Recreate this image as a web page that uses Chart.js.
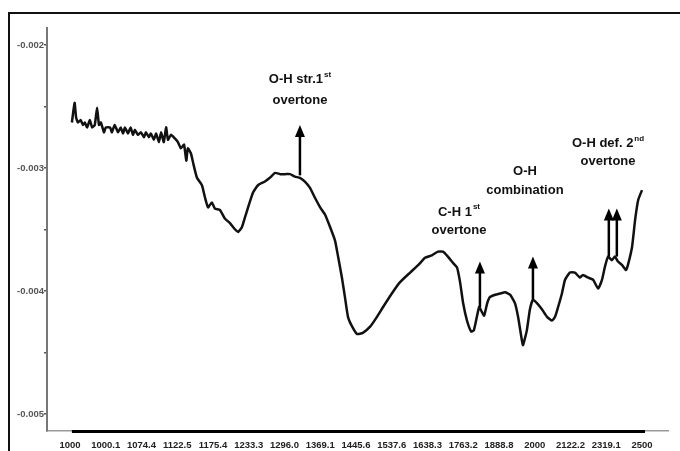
<!DOCTYPE html>
<html><head><meta charset="utf-8">
<script src="https://cdn.jsdelivr.net/npm/chart.js@4.4.1/dist/chart.umd.min.js"></script>
<style>html,body{margin:0;padding:0;background:#fff;}#wrap{width:680px;height:451px;position:relative;}</style>
</head><body><div id="wrap"><canvas id="c" width="680" height="451"></canvas></div>
<script>
// Wavelength (nm) of each traced point of the spectrum
const wavelengths = [
 1005,1012,1016,1021,1028,1034,1039,1045,1052,1058,
 1065,1071,1076,1081,1089,1094,1105,1110,1117,1126,
 1133,1139,1144,1152,1159,1165,1170,1178,1186,1194,
 1199,1207,1212,1220,1226,1233,1239,1246,1252,1257,
 1265,1275,1283,1291,1299,1305,1309,1317,1323,1333,
 1346,1354,1362,1372,1380,1393,1406,1420,1433,1441,
 1451,1459,1467,1480,1493,1511,1524,1538,1551,1564,
 1577,1590,1603,1616,1629,1642,1656,1669,1682,1695,
 1703,1713,1721,1729,1740,1753,1768,1787,1805,1821,
 1844,1865,1892,1913,1931,1949,1965,1978,1991,2004,
 2015,2023,2031,2041,2052,2059,2067,2073,2080,2086,
 2094,2101,2115,2128,2141,2154,2167,2175,2185,2188,
 2198,2206,2214,2225,2238,2251,2264,2272,2280,2290,
 2298,2311,2324,2337,2345,2358,2372,2385,2395,2403,
 2411,2421,2429,2437,2448,2458,2463,2474,2482,2490,
 2500
];
// Signal values
const absorbance = [
 -0.00263,-0.00247,-0.00259,-0.00263,-0.00261,-0.00265,-0.00263,-0.00267,-0.00261,-0.00267,
 -0.00265,-0.00251,-0.00265,-0.00263,-0.00271,-0.00267,-0.00267,-0.00271,-0.00265,-0.00271,
 -0.00267,-0.00272,-0.00267,-0.00272,-0.00267,-0.00273,-0.00269,-0.00273,-0.00271,-0.00275,
 -0.00271,-0.00275,-0.00272,-0.00277,-0.00272,-0.00279,-0.00271,-0.00279,-0.00267,-0.00277,
 -0.00273,-0.00276,-0.00279,-0.00284,-0.00281,-0.00294,-0.00284,-0.00288,-0.00296,-0.00308,
 -0.00314,-0.00324,-0.00332,-0.00328,-0.00333,-0.00334,-0.00341,-0.00345,-0.00350,-0.00352,
 -0.00348,-0.00340,-0.00332,-0.00320,-0.00314,-0.00311,-0.00308,-0.00304,-0.00305,-0.00305,
 -0.00305,-0.00307,-0.00308,-0.00311,-0.00316,-0.00324,-0.00332,-0.00338,-0.00348,-0.00359,
 -0.00372,-0.00389,-0.00405,-0.00421,-0.00429,-0.00435,-0.00434,-0.00429,-0.00421,-0.00413,
 -0.00402,-0.00393,-0.00385,-0.00379,-0.00373,-0.00371,-0.00368,-0.00368,-0.00372,-0.00377,
 -0.00381,-0.00393,-0.00410,-0.00424,-0.00433,-0.00432,-0.00421,-0.00413,-0.00417,-0.00420,
 -0.00410,-0.00405,-0.00403,-0.00402,-0.00401,-0.00403,-0.00410,-0.00421,-0.00440,-0.00444,
 -0.00432,-0.00415,-0.00407,-0.00410,-0.00415,-0.00421,-0.00424,-0.00421,-0.00413,-0.00402,
 -0.00391,-0.00385,-0.00385,-0.00389,-0.00387,-0.00389,-0.00391,-0.00398,-0.00391,-0.00380,
 -0.00372,-0.00375,-0.00372,-0.00376,-0.00379,-0.00383,-0.00379,-0.00364,-0.00342,-0.00326,
 -0.00318
];
// Axis tick labels as printed
const xTickLabels = ['1000','1000.1','1074.4','1122.5','1175.4','1233.3','1296.0','1369.1','1445.6','1537.6','1638.3','1763.2','1888.8','2000','2122.2','2319.1','2500'];
const yTickValues = [-0.005,-0.0045,-0.004,-0.0035,-0.003,-0.0025,-0.002];
const yTickLabels = ['-0.005','','-0.004','','-0.003','','-0.002'];
// Band annotations (data units)
const bandLabels = [
 {text:'O-H str.1', sup:'st', x:1603, y:-0.00228},
 {text:'overtone', sup:'', x:1603, y:-0.00245},
 {text:'C-H 1', sup:'st', x:2020, y:-0.00336},
 {text:'overtone', sup:'', x:2020, y:-0.00351},
 {text:'O-H', sup:'', x:2193, y:-0.00303},
 {text:'combination', sup:'', x:2193, y:-0.00318},
 {text:'O-H def. 2', sup:'nd', x:2411, y:-0.00280},
 {text:'overtone', sup:'', x:2411, y:-0.00295}
];
const bandArrows = [
 {x:1603, from:-0.00306, to:-0.00265},
 {x:2075, from:-0.00413, to:-0.00376},
 {x:2214, from:-0.00407, to:-0.00372},
 {x:2413, from:-0.00372, to:-0.00333},
 {x:2434, from:-0.00372, to:-0.00333}
];

const points = wavelengths.map((w,i)=>({x:w, y:absorbance[i]}));
const FONT = '"Liberation Sans", Arial, sans-serif';

const extras = {
  id:'extras',
  afterDraw(chart){
    const ctx = chart.ctx, xs = chart.scales.x, ys = chart.scales.y, ca = chart.chartArea;
    ctx.save();
    // outer frame
    ctx.strokeStyle = '#111'; ctx.lineWidth = 2;
    ctx.strokeRect(9, 13, 800, 800);
    // thick baseline under the data range
    ctx.strokeStyle = '#000'; ctx.lineWidth = 3;
    ctx.beginPath();
    ctx.moveTo(xs.getPixelForValue(wavelengths[0]), ca.bottom + 0.5);
    ctx.lineTo(xs.getPixelForValue(wavelengths[wavelengths.length-1]) + 3, ca.bottom + 0.5);
    ctx.stroke();
    // arrows
    ctx.fillStyle = '#000'; ctx.strokeStyle = '#000';
    bandArrows.forEach(a=>{
      const px = xs.getPixelForValue(a.x), y0 = ys.getPixelForValue(a.from), y1 = ys.getPixelForValue(a.to);
      const hh = 12, hw = 5;
      ctx.lineWidth = 2.5;
      ctx.beginPath(); ctx.moveTo(px, y0); ctx.lineTo(px, y1 + hh - 1); ctx.stroke();
      ctx.beginPath(); ctx.moveTo(px, y1); ctx.lineTo(px - hw, y1 + hh); ctx.lineTo(px + hw, y1 + hh); ctx.closePath(); ctx.fill();
    });
    // labels
    ctx.fillStyle = '#111'; ctx.textBaseline = 'middle';
    bandLabels.forEach(l=>{
      const px = xs.getPixelForValue(l.x), py = ys.getPixelForValue(l.y);
      ctx.font = 'bold 13px ' + FONT;
      const w1 = ctx.measureText(l.text).width;
      ctx.font = 'bold 8px ' + FONT;
      const w2 = l.sup ? ctx.measureText(l.sup).width + 1 : 0;
      const sx = px - (w1 + w2) / 2;
      ctx.font = 'bold 13px ' + FONT; ctx.textAlign = 'left';
      ctx.fillText(l.text, sx, py);
      if (l.sup) { ctx.font = 'bold 8px ' + FONT; ctx.fillText(l.sup, sx + w1 + 1, py - 5); }
    });
    ctx.restore();
  }
};

new Chart(document.getElementById('c'), {
  type:'line',
  data:{datasets:[{data:points, borderColor:'#111', borderWidth:2.5, pointRadius:0, tension:0.15, fill:false}]},
  options:{
    responsive:false, animation:false, devicePixelRatio:1,
    layout:{padding:{top:28, right:12, left:0, bottom:0}},
    plugins:{legend:{display:false}, tooltip:{enabled:false}},
    scales:{
      x:{type:'linear', min:939.69, max:2568.18,
        afterBuildTicks(s){ s.ticks = xTickLabels.map((l,i)=>({value:1000 + i*1500/(xTickLabels.length-1)})); },
        afterFit(s){ s.height = 20; },
        grid:{display:false},
        border:{display:true, color:'#9a9a9a', width:1.5},
        ticks:{autoSkip:false, maxRotation:0, padding:1, color:'#222', font:{family:FONT, size:9.5, weight:'bold'},
          callback:(v,i)=>xTickLabels[i]}
      },
      y:{type:'linear', min:-0.005138, max:-0.001862,
        afterBuildTicks(s){ s.ticks = yTickValues.map(v=>({value:v})); },
        afterFit(s){ s.width = 47; },
        grid:{display:true, drawOnChartArea:false, tickLength:3, color:'#555', lineWidth:1.5},
        border:{display:true, color:'#777', width:2},
        ticks:{padding:0, color:'#555', font:{family:FONT, size:9.5, weight:'bold'},
          callback:(v,i)=>yTickLabels[i]}
      }
    }
  },
  plugins:[extras]
});
</script>
</body></html>
